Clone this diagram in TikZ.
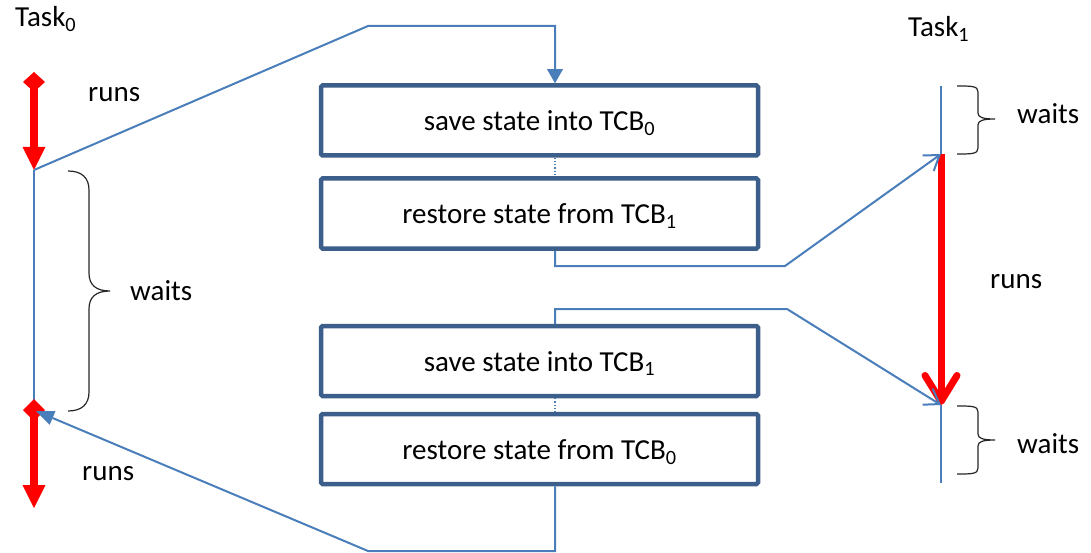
\documentclass[tikz,border=0pt]{standalone}
\usepackage{fontspec}
\setmainfont{Carlito}
\usetikzlibrary{arrows.meta}
\definecolor{boxblue}{RGB}{59,94,138}
\definecolor{linkblue}{RGB}{74,126,187}
\begin{document}
\begin{tikzpicture}[x=1pt,y=-1pt,
  stepbox/.style={draw=boxblue,line width=4.5pt,rounded corners=1.5pt,minimum width=437pt,minimum height=70pt,inner sep=0pt,text height=26pt,text depth=5pt,font=\fontsize{29}{34}\selectfont},
  link/.style={draw=linkblue,line width=2pt},
  thin/.style={draw=linkblue,line width=1.3pt},
  lbl/.style={font=\fontsize{29}{34}\selectfont,inner sep=0pt,anchor=base west},
  brace/.style={draw=black!85,line width=1.2pt},
  redrun/.style={draw=red,fill=red,line width=8.5pt},
  ]
\useasboundingbox (0,0) rectangle (1091,553);

% boxes
\node[stepbox] (b1) at (539.5,120.5) {save state into TCB\textsubscript{0}};
\node[stepbox] (b2) at (539.5,213.5) {restore state from TCB\textsubscript{1}};
\node[stepbox] (b3) at (539.5,361) {save state into TCB\textsubscript{1}};
\node[stepbox] (b4) at (539.5,449) {restore state from TCB\textsubscript{0}};

% coordinates
\coordinate (t0top) at (34,72);
\coordinate (t0a) at (34,170);
\coordinate (t0w) at (34,400);
\coordinate (t0b) at (34,399);
\coordinate (t0tip) at (36,411);
\coordinate (t0end) at (34,508);
\coordinate (t1top) at (941,86);
\coordinate (t1a) at (941,154);
\coordinate (t1b) at (941,405);
\coordinate (t1bot) at (941,483);
\coordinate (k0) at (368,26);
\coordinate (k1) at (555,26);
\coordinate (k2) at (555,266);
\coordinate (k3) at (785,266);
\coordinate (k4) at (555,309);
\coordinate (k5) at (787,309);
\coordinate (k6) at (555,551);
\coordinate (k7) at (368,551);

% dotted links between boxes
\draw[linkblue,dotted,line width=1.2pt] (k1 |- b1.south) -- (k1 |- b2.north);
\draw[linkblue,dotted,line width=1.2pt] (k1 |- b3.south) -- (k1 |- b4.north);

% task 0 timeline
\draw[thin] (t0a) -- (t0w);
\draw[redrun,{Kite[length=20pt,width=22pt,inset=10pt,line width=0pt]}-{Triangle[length=23pt,width=23pt,line width=0pt]}] (t0top) -- (t0a);
\draw[redrun,{Kite[length=22pt,width=22pt,inset=11pt,line width=0pt]}-{Triangle[length=23pt,width=23pt,line width=0pt]}] (t0b) -- (t0end);

% task 1 timeline
\draw[thin] (t1top) -- (t1a);
\draw[thin] (t1b) -- (t1bot);
\draw[draw=red,line width=7pt,-{Straight Barb[length=26pt,width=32pt,round]}] (t1a) -- (t1b);

% connectors
\draw[link,-{Triangle[length=14pt,width=16pt,line width=0pt]}] (t0a) -- (k0) -- (k1) -- (k1 |- b1.north);
\draw[link,-{Straight Barb[length=14pt,width=19pt]}] (k2 |- b2.south) -- (k2) -- (k3) -- (t1a);
\draw[link,-{Straight Barb[length=14pt,width=19pt]}] (k4 |- b3.north) -- (k4) -- (k5) -- (t1b);
\draw[link,-{Triangle[length=18pt,width=15pt,line width=0pt]}] (k6 |- b4.south) -- (k6) -- (k7) -- (t0tip);

% braces
\draw[brace] (68,171) .. controls (82,171) and (89,178) .. (89,190) -- (89,273)
  .. controls (89,285) and (96,291) .. (110,291)
  .. controls (96,291) and (89,297) .. (89,309) -- (89,392)
  .. controls (89,404) and (82,411) .. (68,411);
\draw[brace] (957,86) .. controls (972,86) and (978,86) .. (978,92) -- (978,113)
  .. controls (978,117) and (982,119) .. (995,119)
  .. controls (982,119) and (978,121) .. (978,125) -- (978,148)
  .. controls (978,154) and (972,154) .. (957,154);
\draw[brace] (957,406) .. controls (972,406) and (978,406) .. (978,412) -- (978,434)
  .. controls (978,438) and (982,440) .. (995,440)
  .. controls (982,440) and (978,442) .. (978,446) -- (978,468)
  .. controls (978,474) and (972,474) .. (957,474);

% labels
\node[lbl] (task0) at (15,27) {Task\textsubscript{0}};
\node[lbl] (task1) at (908,37) {Task\textsubscript{1}};
\node[lbl] (runs0a) at (88,102) {runs};
\node[lbl] (runs0b) at (82,480) {runs};
\node[lbl] (waits0) at (130,300) {waits};
\node[lbl] (waits1a) at (1017,124) {waits};
\node[lbl] (waits1b) at (1017,453) {waits};
\node[lbl] (runs1) at (990,288) {runs};
\end{tikzpicture}
\end{document}
